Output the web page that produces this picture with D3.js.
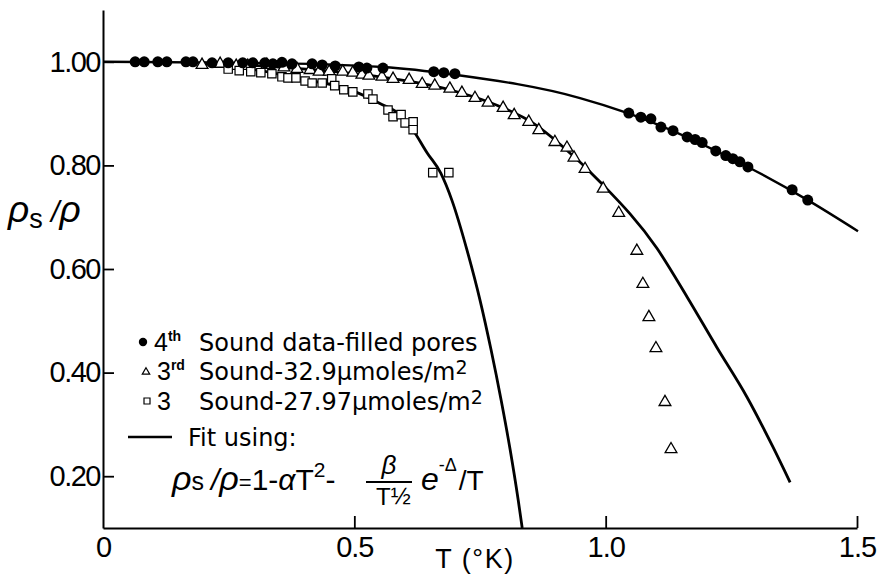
<!DOCTYPE html>
<html>
<head>
<meta charset="utf-8">
<script src="https://cdn.jsdelivr.net/npm/d3@7"></script>
<style>
  body { margin: 0; background: #fff; }
  text { font-family: "Liberation Sans", Arial, sans-serif; fill: #000; }
  text.lettering { font-family: "DejaVu Sans", sans-serif; }
</style>
</head>
<body>
<div id="graph"></div>
<script>
// values: [T (K), rho_s/rho]
let fourthSound = [
  [0.064, 1.000], [0.082, 1.000], [0.109, 1.000], [0.127, 1.000], [0.165, 1.000],
  [0.179, 1.000], [0.217, 0.998], [0.249, 0.998], [0.278, 0.998], [0.298, 0.998],
  [0.322, 0.998], [0.338, 0.996], [0.356, 0.999], [0.376, 0.996], [0.416, 0.996],
  [0.436, 0.994], [0.462, 0.992], [0.509, 0.990], [0.525, 0.988], [0.557, 0.988],
  [0.658, 0.981], [0.678, 0.979], [0.700, 0.977],
  [1.046, 0.901], [1.070, 0.893], [1.090, 0.890], [1.110, 0.874], [1.134, 0.867],
  [1.162, 0.855], [1.178, 0.850], [1.192, 0.844], [1.219, 0.828], [1.239, 0.819],
  [1.253, 0.813], [1.267, 0.807], [1.283, 0.797], [1.371, 0.753], [1.402, 0.733]
];
let thirdSound329 = [
  [0.197, 0.994], [0.233, 0.996], [0.265, 0.992], [0.288, 0.992], [0.326, 0.994],
  [0.360, 0.989], [0.386, 0.986], [0.412, 0.984], [0.430, 0.981], [0.450, 0.981],
  [0.477, 0.981], [0.497, 0.979], [0.515, 0.975], [0.529, 0.973], [0.555, 0.971],
  [0.577, 0.967], [0.609, 0.965], [0.635, 0.957], [0.660, 0.954], [0.690, 0.948],
  [0.714, 0.940], [0.740, 0.930], [0.766, 0.921], [0.796, 0.911], [0.818, 0.897],
  [0.847, 0.884], [0.867, 0.868], [0.899, 0.845], [0.923, 0.834], [0.937, 0.815],
  [0.959, 0.793], [0.995, 0.755], [1.026, 0.708], [1.062, 0.635], [1.074, 0.571],
  [1.086, 0.507], [1.100, 0.447], [1.118, 0.343], [1.130, 0.252]
];
let thirdSound2797 = [
  [0.249, 0.986], [0.271, 0.983], [0.294, 0.981], [0.314, 0.979], [0.336, 0.977],
  [0.356, 0.971], [0.368, 0.969], [0.384, 0.969], [0.402, 0.963], [0.416, 0.959],
  [0.436, 0.959], [0.455, 0.967], [0.461, 0.954], [0.479, 0.946], [0.497, 0.942],
  [0.527, 0.938], [0.537, 0.928], [0.567, 0.907], [0.577, 0.894], [0.593, 0.898],
  [0.601, 0.882], [0.617, 0.884], [0.617, 0.869], [0.656, 0.786], [0.688, 0.786]
];
// fit curves
let fitFourth = [
  [0.0, 1.0], [0.3, 0.998], [0.557, 0.990], [0.70, 0.975], [0.949, 0.930],
  [1.044, 0.901], [1.283, 0.797], [1.402, 0.733], [1.502, 0.673]
];
let fitThird329 = [
  [0.20, 0.998], [0.35, 0.990], [0.551, 0.971], [0.690, 0.946], [0.796, 0.911],
  [0.855, 0.882], [0.915, 0.836], [0.989, 0.768], [1.102, 0.640], [1.162, 0.546],
  [1.221, 0.449], [1.281, 0.353], [1.333, 0.256], [1.367, 0.188]
];
let fitThird2797 = [
  [0.20, 0.996], [0.30, 0.985], [0.40, 0.966], [0.50, 0.943], [0.55, 0.920],
  [0.60, 0.890], [0.617, 0.868], [0.645, 0.824], [0.672, 0.785], [0.694, 0.733],
  [0.724, 0.637], [0.750, 0.540], [0.772, 0.444], [0.792, 0.347], [0.810, 0.251],
  [0.826, 0.154], [0.834, 0.100]
];
let xTicks = [0, 0.5, 1.0, 1.5];
let xTickLabels = ['0', '0.5', '1.0', '1.5'];
let yTicks = [0.2, 0.4, 0.6, 0.8, 1.0];
let yTickLabels = ['0.20', '0.40', '0.60', '0.80', '1.00'];

let width = 881;
let height = 574;

let x = d3.scaleLinear().domain([0, 1.5]).range([103, 857]);
let y = d3.scaleLinear().domain([0.1, 1.1]).range([528, 10]);

let svg = d3.select('#graph')
    .append('svg')
        .attr('width', width)
        .attr('height', height);

// axes
let yAxis = svg.append('g')
    .attr('transform', 'translate(' + x(0) + ',0)')
    .call(d3.axisLeft(y)
        .tickValues(yTicks)
        .tickFormat((d, i) => yTickLabels[i])
        .tickSizeInner(-11)
        .tickSizeOuter(0)
        .tickPadding(3));
yAxis.select('.domain').attr('stroke-width', 2);
yAxis.selectAll('.tick line').attr('stroke-width', 1.8);
yAxis.selectAll('.tick text')
    .attr('font-size', 29)
    .attr('letter-spacing', -1.5);

let xAxis = svg.append('g')
    .attr('transform', 'translate(0,' + y(0.1) + ')')
    .call(d3.axisBottom(x)
        .tickValues(xTicks)
        .tickFormat((d, i) => xTickLabels[i])
        .tickSizeInner(-12)
        .tickSizeOuter(0)
        .tickPadding(8));
xAxis.select('.domain').attr('stroke-width', 2);
xAxis.selectAll('.tick line')
    .attr('stroke-width', 1.8)
    .attr('opacity', (d) => d === 0 ? 0 : 1);
xAxis.selectAll('.tick text')
    .attr('font-size', 29)
    .attr('letter-spacing', -1);

// fit lines
let line = d3.line()
    .x((d) => x(d[0]))
    .y((d) => y(d[1]))
    .curve(d3.curveMonotoneX);

svg.append('path').datum(fitFourth)
    .attr('d', line).attr('fill', 'none').attr('stroke', '#000').attr('stroke-width', 2.4);
svg.append('path').datum(fitThird329)
    .attr('d', line).attr('fill', 'none').attr('stroke', '#000').attr('stroke-width', 2.8);
svg.append('path').datum(fitThird2797)
    .attr('d', line).attr('fill', 'none').attr('stroke', '#000').attr('stroke-width', 2.8);

// markers
svg.selectAll('.tri')
        .data(thirdSound329)
    .enter().append('path')
        .attr('class', 'tri')
        .attr('d', d3.symbol(d3.symbolTriangle, 60))
        .attr('transform', (d) => 'translate(' + x(d[0]) + ',' + y(d[1]) + ')')
        .attr('fill', '#fff')
        .attr('stroke', '#000')
        .attr('stroke-width', 1.3);

svg.selectAll('.sq')
        .data(thirdSound2797)
    .enter().append('path')
        .attr('class', 'sq')
        .attr('d', d3.symbol(d3.symbolSquare, 70))
        .attr('transform', (d) => 'translate(' + x(d[0]) + ',' + y(d[1]) + ')')
        .attr('fill', '#fff')
        .attr('stroke', '#000')
        .attr('stroke-width', 1.2);

svg.selectAll('.dot')
        .data(fourthSound)
    .enter().append('circle')
        .attr('class', 'dot')
        .attr('cx', (d) => x(d[0]))
        .attr('cy', (d) => y(d[1]))
        .attr('r', 5.5)
        .attr('fill', '#000');

// axis titles
let yTitle = svg.append('text')
    .attr('x', 8)
    .attr('y', 222)
    .attr('font-size', 37);
yTitle.append('tspan').attr('font-style', 'italic').text('ρ');
yTitle.append('tspan').attr('font-size', 27).attr('dy', 6).text('s');
yTitle.append('tspan').attr('dy', -6).attr('font-size', 30).attr('font-style', 'italic').text(' /');
yTitle.append('tspan').attr('font-style', 'italic').text('ρ');

svg.append('text')
    .attr('x', 475)
    .attr('y', 568)
    .attr('text-anchor', 'middle')
    .attr('font-size', 27)
    .attr('letter-spacing', 1.5)
    .text('T (°K)');

// legend
let legend = svg.append('g');
legend.append('circle').attr('cx', 143).attr('cy', 342).attr('r', 4.2).attr('fill', '#000');
legend.append('path')
    .attr('d', d3.symbol(d3.symbolTriangle, 24))
    .attr('transform', 'translate(146,372)')
    .attr('fill', '#fff').attr('stroke', '#000').attr('stroke-width', 1.2);
legend.append('path')
    .attr('d', d3.symbol(d3.symbolSquare, 36))
    .attr('transform', 'translate(147,401)')
    .attr('fill', '#fff').attr('stroke', '#000').attr('stroke-width', 1.2);
legend.append('line')
    .attr('x1', 128).attr('x2', 172).attr('y1', 437).attr('y2', 437)
    .attr('stroke', '#000').attr('stroke-width', 2.4);

let entries = [
    {y: 351, num: '4', sup: 'th', numX: 154, label: 'Sound data-filled pores', sq: ''},
    {y: 380, num: '3', sup: 'rd', numX: 157, label: 'Sound-32.9μmoles/m', sq: '2'},
    {y: 410, num: '3', sup: '', numX: 157, label: 'Sound-27.97μmoles/m', sq: '2'}
];
entries.forEach((e) => {
    let t = legend.append('text').attr('x', e.numX).attr('y', e.y).attr('font-size', 25);
    t.append('tspan').text(e.num);
    if (e.sup) t.append('tspan').attr('font-size', 14).attr('font-weight', 'bold').attr('dy', -10).text(e.sup);
    let s = legend.append('text').attr('class', 'lettering')
        .attr('x', 199).attr('y', e.y).attr('font-size', 24);
    s.append('tspan').text(e.label);
    if (e.sq) s.append('tspan').attr('font-size', 19).attr('dy', -6).text(e.sq);
});
legend.append('text').attr('class', 'lettering')
    .attr('x', 188).attr('y', 446).attr('font-size', 24).text('Fit using:');

// formula
let f = legend.append('text').attr('x', 172).attr('y', 490).attr('font-size', 30);
f.append('tspan').attr('font-style', 'italic').attr('font-size', 34).text('ρ');
f.append('tspan').attr('font-size', 25).text('s ');
f.append('tspan').attr('font-style', 'italic').text('/');
f.append('tspan').attr('font-style', 'italic').attr('font-size', 34).text('ρ');
f.append('tspan').attr('font-size', 22).text('=');
f.append('tspan').text('1-');
f.append('tspan').attr('font-style', 'italic').text('α');
f.append('tspan').text('T');
f.append('tspan').attr('font-size', 21).attr('dy', -13).text('2');
f.append('tspan').attr('dy', 13).text('-');

legend.append('text').attr('x', 389).attr('y', 474).attr('text-anchor', 'middle')
    .attr('font-size', 26).attr('font-style', 'italic').text('β');
legend.append('line').attr('x1', 366).attr('x2', 412).attr('y1', 482).attr('y2', 482)
    .attr('stroke', '#000').attr('stroke-width', 2);
let den = legend.append('text').attr('x', 376).attr('y', 505).attr('font-size', 24);
den.append('tspan').text('T');
den.append('tspan').attr('font-size', 24).attr('dy', -1).text('½');

let ex = legend.append('text').attr('x', 421).attr('y', 490).attr('font-size', 32);
ex.append('tspan').attr('font-style', 'italic').text('e');
ex.append('tspan').attr('font-size', 18).attr('dy', -19).text('-Δ');
ex.append('tspan').attr('font-size', 28).attr('dy', 19).attr('dx', 2).text('/T');
</script>
</body>
</html>
